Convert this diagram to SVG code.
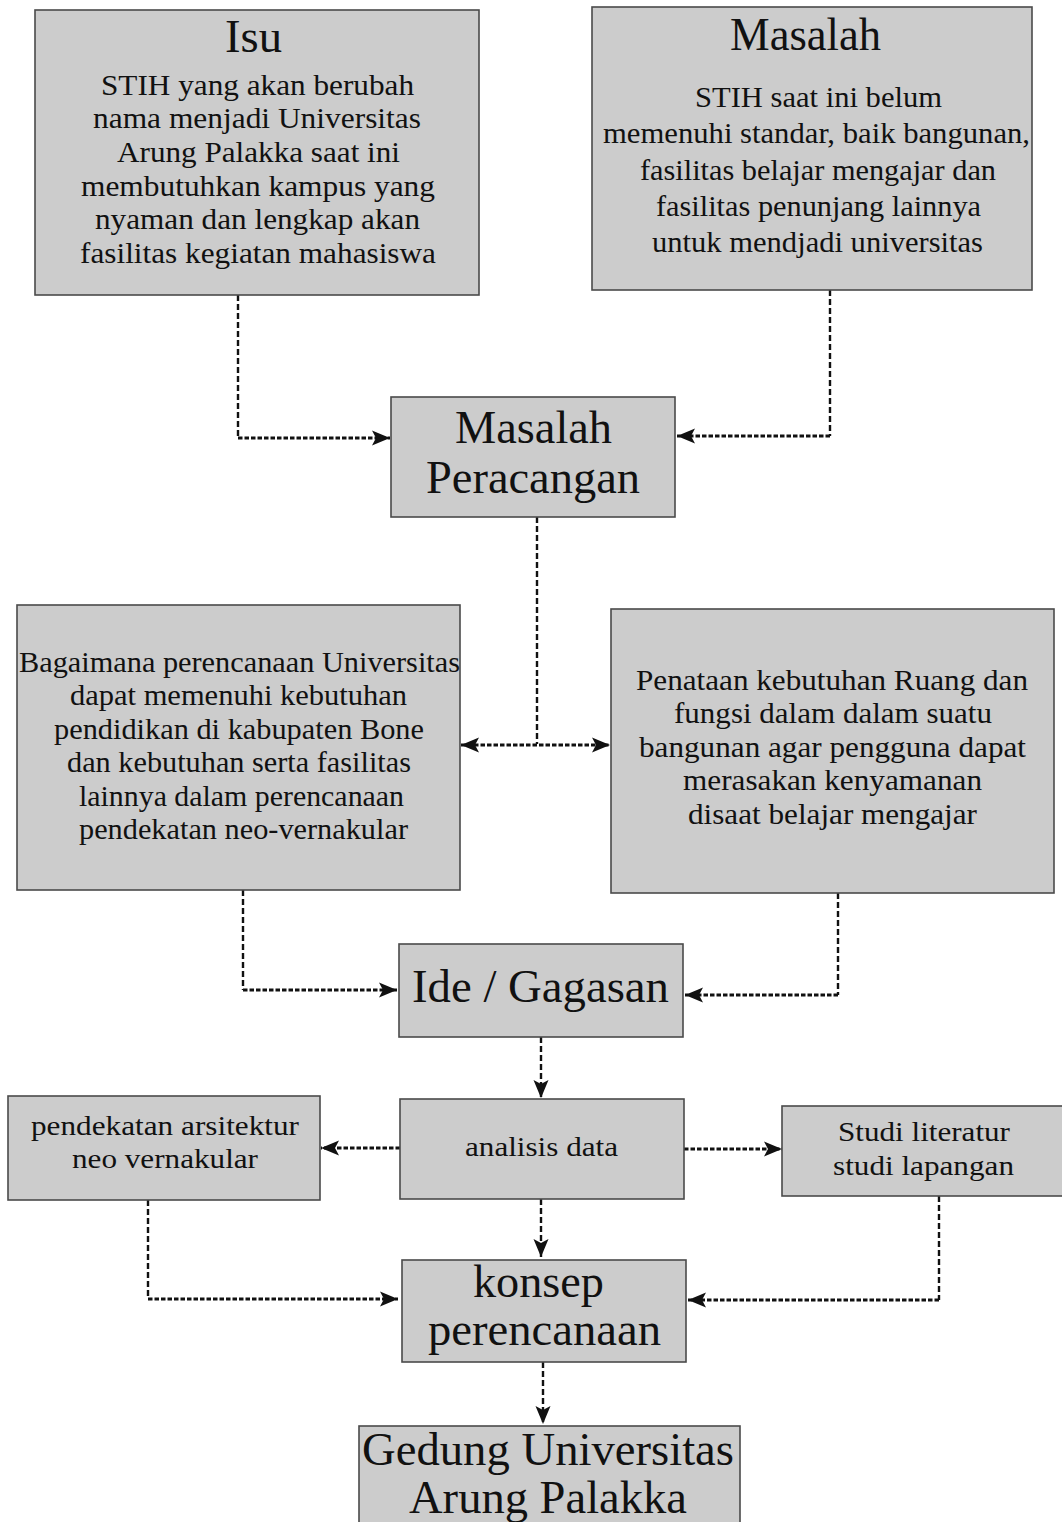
<svg xmlns="http://www.w3.org/2000/svg" width="1062" height="1522" viewBox="0 0 1062 1522" font-family="'Liberation Serif', 'Times New Roman', Times, serif">
<style>
.box{fill:#cccccc;stroke:#4a4a4a;stroke-width:1.6}
text{font-family:"Liberation Serif","Times New Roman",Times,serif;fill:#111111}
.t{font-size:46px}
.b{font-size:30px}
.s{font-size:28px}
.v{fill:none;stroke:#111111;stroke-width:2.4;stroke-dasharray:6 3}
.h{fill:none;stroke:#111111;stroke-width:2.8;stroke-dasharray:4.5 2}
</style>
<defs>
<marker id="ah" markerUnits="userSpaceOnUse" markerWidth="20" markerHeight="16" refX="18" refY="8" orient="auto-start-reverse">
<path d="M0,0.5 L18,8 L0,15.5 L4,8 z" fill="#111111"/>
</marker>
</defs>
<rect width="1062" height="1522" fill="#ffffff"/>

<g id="connectors">
<path class="v" d="M238,295 V438"/><path class="h" d="M238,438 H390" marker-end="url(#ah)"/>
<path class="v" d="M830,290 V436"/><path class="h" d="M830,436 H677" marker-end="url(#ah)"/>
<path class="v" d="M537,517 V744"/>
<path class="h" d="M461,745 H610" marker-start="url(#ah)" marker-end="url(#ah)"/>
<path class="v" d="M243,890 V990"/><path class="h" d="M243,990 H397" marker-end="url(#ah)"/>
<path class="v" d="M838,893 V995"/><path class="h" d="M838,995 H685" marker-end="url(#ah)"/>
<path class="v" d="M541,1037 V1098" marker-end="url(#ah)"/>
<path class="h" d="M400,1148 H321" marker-end="url(#ah)"/>
<path class="h" d="M684,1149 H782" marker-end="url(#ah)"/>
<path class="v" d="M148,1200 V1299"/><path class="h" d="M148,1299 H398" marker-end="url(#ah)"/>
<path class="v" d="M939,1196 V1300"/><path class="h" d="M939,1300 H688" marker-end="url(#ah)"/>
<path class="v" d="M541,1199 V1257" marker-end="url(#ah)"/>
<path class="v" d="M543,1362 V1424" marker-end="url(#ah)"/>
</g>

<g id="isu">
<rect class="box" x="35" y="10" width="444" height="285"/>
<text class="t" x="225" y="52" textLength="57" lengthAdjust="spacingAndGlyphs">Isu</text>
<text class="b" x="101" y="95" textLength="313" lengthAdjust="spacingAndGlyphs">STIH yang akan berubah</text>
<text class="b" x="93" y="128" textLength="328" lengthAdjust="spacingAndGlyphs">nama menjadi Universitas</text>
<text class="b" x="117" y="162" textLength="283" lengthAdjust="spacingAndGlyphs">Arung Palakka saat ini</text>
<text class="b" x="81" y="196" textLength="354" lengthAdjust="spacingAndGlyphs">membutuhkan kampus yang</text>
<text class="b" x="95" y="229" textLength="325" lengthAdjust="spacingAndGlyphs">nyaman dan lengkap akan</text>
<text class="b" x="80" y="263" textLength="356" lengthAdjust="spacingAndGlyphs">fasilitas kegiatan mahasiswa</text>
</g>

<g id="masalah">
<rect class="box" x="592" y="7" width="440" height="283"/>
<text class="t" x="730" y="50" textLength="151" lengthAdjust="spacingAndGlyphs">Masalah</text>
<text class="b" x="695" y="107" textLength="247" lengthAdjust="spacingAndGlyphs">STIH saat ini belum</text>
<text class="b" x="603" y="143" textLength="427" lengthAdjust="spacingAndGlyphs">memenuhi standar, baik bangunan,</text>
<text class="b" x="640" y="180" textLength="356" lengthAdjust="spacingAndGlyphs">fasilitas belajar mengajar dan</text>
<text class="b" x="656" y="216" textLength="325" lengthAdjust="spacingAndGlyphs">fasilitas penunjang lainnya</text>
<text class="b" x="652" y="252" textLength="331" lengthAdjust="spacingAndGlyphs">untuk mendjadi universitas</text>
</g>

<g id="masalah-peracangan">
<rect class="box" x="391" y="397" width="284" height="120"/>
<text class="t" x="455" y="443" textLength="157" lengthAdjust="spacingAndGlyphs">Masalah</text>
<text class="t" x="426" y="493" textLength="214" lengthAdjust="spacingAndGlyphs">Peracangan</text>
</g>

<g id="bagaimana">
<rect class="box" x="17" y="605" width="443" height="285"/>
<text class="b" x="19" y="672" textLength="441" lengthAdjust="spacingAndGlyphs">Bagaimana perencanaan Universitas</text>
<text class="b" x="70" y="705" textLength="337" lengthAdjust="spacingAndGlyphs">dapat memenuhi kebutuhan</text>
<text class="b" x="54" y="739" textLength="370" lengthAdjust="spacingAndGlyphs">pendidikan di kabupaten Bone</text>
<text class="b" x="67" y="772" textLength="344" lengthAdjust="spacingAndGlyphs">dan kebutuhan serta fasilitas</text>
<text class="b" x="79" y="806" textLength="325" lengthAdjust="spacingAndGlyphs">lainnya dalam perencanaan</text>
<text class="b" x="79" y="839" textLength="329" lengthAdjust="spacingAndGlyphs">pendekatan neo-vernakular</text>
</g>

<g id="penataan">
<rect class="box" x="611" y="609" width="443" height="284"/>
<text class="b" x="636" y="690" textLength="392" lengthAdjust="spacingAndGlyphs">Penataan kebutuhan Ruang dan</text>
<text class="b" x="674" y="723" textLength="318" lengthAdjust="spacingAndGlyphs">fungsi dalam dalam suatu</text>
<text class="b" x="639" y="757" textLength="387" lengthAdjust="spacingAndGlyphs">bangunan agar pengguna dapat</text>
<text class="b" x="683" y="790" textLength="299" lengthAdjust="spacingAndGlyphs">merasakan kenyamanan</text>
<text class="b" x="688" y="824" textLength="289" lengthAdjust="spacingAndGlyphs">disaat belajar mengajar</text>
</g>

<g id="ide">
<rect class="box" x="399" y="944" width="284" height="93"/>
<text class="t" x="412" y="1002" textLength="257" lengthAdjust="spacingAndGlyphs">Ide / Gagasan</text>
</g>

<g id="analisis">
<rect class="box" x="400" y="1099" width="284" height="100"/>
<text class="s" x="465" y="1156" textLength="153" lengthAdjust="spacingAndGlyphs">analisis data</text>
</g>

<g id="pendekatan">
<rect class="box" x="8" y="1096" width="312" height="104"/>
<text class="s" x="31" y="1135" textLength="268" lengthAdjust="spacingAndGlyphs">pendekatan arsitektur</text>
<text class="s" x="72" y="1168" textLength="186" lengthAdjust="spacingAndGlyphs">neo vernakular</text>
</g>

<g id="studi">
<rect class="box" x="782" y="1106" width="284" height="90"/>
<text class="s" x="838" y="1141" textLength="172" lengthAdjust="spacingAndGlyphs">Studi literatur</text>
<text class="s" x="833" y="1175" textLength="181" lengthAdjust="spacingAndGlyphs">studi lapangan</text>
</g>

<g id="konsep">
<rect class="box" x="402" y="1260" width="284" height="102"/>
<text class="t" x="473" y="1297" textLength="131" lengthAdjust="spacingAndGlyphs">konsep</text>
<text class="t" x="428" y="1345" textLength="233" lengthAdjust="spacingAndGlyphs">perencanaan</text>
</g>

<g id="gedung">
<rect class="box" x="359" y="1426" width="381" height="110"/>
<text class="t" x="362" y="1465" textLength="372" lengthAdjust="spacingAndGlyphs">Gedung Universitas</text>
<text class="t" x="409" y="1513" textLength="278" lengthAdjust="spacingAndGlyphs">Arung Palakka</text>
</g>
</svg>
